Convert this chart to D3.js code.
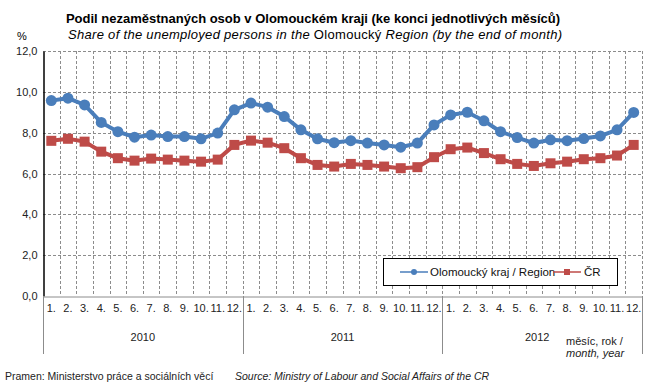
<!DOCTYPE html>
<html>
<head>
<meta charset="utf-8">
<script src="https://cdn.jsdelivr.net/npm/d3@7"></script>
<style>
  body { margin: 0; background: #fff; }
  svg { font-family: "Liberation Sans", Arial, sans-serif; }
</style>
</head>
<body>
<script>
(function(){

    var years = ["2010", "2011", "2012"];
    var months = ["1.", "2.", "3.", "4.", "5.", "6.", "7.", "8.", "9.", "10.", "11.", "12."];
    var yTicks = [0, 2, 4, 6, 8, 10, 12];

    // Olomoucký kraj, month by month 2010-2012
    var olomouc = [9.57, 9.69, 9.36, 8.50, 8.05, 7.78, 7.88, 7.81, 7.81, 7.70, 7.98, 9.12,
                   9.45, 9.25, 8.79, 8.14, 7.70, 7.51, 7.61, 7.49, 7.40, 7.29, 7.49, 8.38,
                   8.87, 9.00, 8.58, 8.05, 7.76, 7.49, 7.65, 7.61, 7.71, 7.84, 8.14, 8.99];
    // ČR
    var cr = [7.60, 7.70, 7.56, 7.07, 6.75, 6.63, 6.73, 6.68, 6.63, 6.58, 6.68, 7.40,
              7.61, 7.51, 7.24, 6.75, 6.42, 6.34, 6.47, 6.42, 6.34, 6.26, 6.31, 6.80,
              7.19, 7.27, 7.00, 6.70, 6.47, 6.37, 6.50, 6.58, 6.70, 6.75, 6.88, 7.40];

    var width = 651, height = 388;
    var left = 43, right = 642, top = 51, bottom = 296;
    var blue = "#4a7ebb", red = "#be4b48";

    var keys = [];
    years.forEach(y => months.forEach(m => keys.push(y + "-" + m)));

    var svg = d3.select("body").append("svg")
        .attr("width", width)
        .attr("height", height);

    var x = d3.scaleBand().domain(keys).range([left, right]).padding(0);
    var y = d3.scaleLinear().domain([0, 12]).range([bottom, top]);
    var cx = k => x(k) + x.bandwidth() / 2;

    // titles
    svg.append("text")
        .attr("x", 313).attr("y", 23)
        .attr("text-anchor", "middle")
        .style("font-size", "13px").style("font-weight", "bold")
        .text("Podil nezaměstnaných  osob v Olomouckém kraji (ke konci jednotlivých měsíců)");

    var sub = svg.append("text")
        .attr("x", 315).attr("y", 39)
        .attr("text-anchor", "middle")
        .attr("textLength", 494)
        .style("font-size", "13px");
    sub.append("tspan").style("font-style", "italic").text("Share of the unemployed  persons in the ");
    sub.append("tspan").text("Olomoucký ");
    sub.append("tspan").style("font-style", "italic").text("Region  (by  the end of month)");

    svg.append("text")
        .attr("x", 22).attr("y", 40)
        .attr("text-anchor", "middle")
        .style("font-size", "11px")
        .text("%");

    // grid
    var grid = svg.append("g")
        .attr("stroke", "#8c8c8c")
        .attr("stroke-dasharray", "3,2")
        .attr("stroke-width", 1);

    grid.selectAll(".hg")
        .data(yTicks.filter(d => d > 0))
        .enter().append("line")
        .attr("x1", left).attr("x2", right)
        .attr("y1", d => Math.round(y(d)) + 0.5)
        .attr("y2", d => Math.round(y(d)) + 0.5);

    grid.selectAll(".vg")
        .data(keys.slice(1).concat(["end"]))
        .enter().append("line")
        .attr("x1", d => Math.round(d === "end" ? right : x(d)) + 0.5)
        .attr("x2", d => Math.round(d === "end" ? right : x(d)) + 0.5)
        .attr("y1", top).attr("y2", bottom);

    // y axis
    var yAxis = svg.append("g")
        .attr("transform", `translate(${left + 0.5},0)`)
        .call(d3.axisLeft(y)
            .tickValues(yTicks)
            .tickSize(0)
            .tickPadding(6)
            .tickFormat(d => d.toFixed(1).replace(".", ",")));
    yAxis.select(".domain").attr("stroke", "#000").attr("stroke-width", 1.5);
    yAxis.selectAll("text").style("font-size", "11px").attr("fill", "#222");

    // x axis
    var xAxis = svg.append("g")
        .attr("transform", `translate(0,${bottom + 0.5})`)
        .call(d3.axisBottom(x)
            .tickSize(0)
            .tickPadding(8)
            .tickFormat(k => k.split("-")[1]));
    xAxis.select(".domain").attr("stroke", "#8c8c8c");
    xAxis.selectAll("text").style("font-size", "11px").attr("fill", "#222");

    // year separators and labels
    var yearEdges = years.map(yr => x(yr + "-1.")).concat([right]);
    svg.selectAll(".ysep")
        .data(yearEdges)
        .enter().append("line")
        .attr("x1", d => Math.round(d) + 0.5)
        .attr("x2", d => Math.round(d) + 0.5)
        .attr("y1", bottom).attr("y2", 354)
        .attr("stroke", "#8c8c8c");

    svg.selectAll(".ylab")
        .data(years)
        .enter().append("text")
        .attr("x", (d, i) => (yearEdges[i] + yearEdges[i + 1]) / 2 - (i === 2 ? 5 : 0))
        .attr("y", 341)
        .attr("text-anchor", "middle")
        .style("font-size", "11px").attr("fill", "#222")
        .text(d => d);

    svg.append("text")
        .attr("x", 566).attr("y", 345)
        .style("font-size", "11px").attr("fill", "#222")
        .text("měsíc, rok /");
    svg.append("text")
        .attr("x", 566).attr("y", 357)
        .style("font-size", "11px").style("font-style", "italic").attr("fill", "#222")
        .text("month, year");

    // series
    var line = d3.line().x((d, i) => cx(keys[i])).y(d => y(d));

    svg.append("path")
        .datum(cr)
        .attr("d", line)
        .attr("fill", "none")
        .attr("stroke", red)
        .attr("stroke-width", 4);

    svg.selectAll(".crm")
        .data(cr)
        .enter().append("rect")
        .attr("x", (d, i) => cx(keys[i]) - 5)
        .attr("y", d => y(d) - 5)
        .attr("width", 10).attr("height", 10)
        .attr("fill", red);

    svg.append("path")
        .datum(olomouc)
        .attr("d", line)
        .attr("fill", "none")
        .attr("stroke", blue)
        .attr("stroke-width", 4);

    svg.selectAll(".olm")
        .data(olomouc)
        .enter().append("circle")
        .attr("cx", (d, i) => cx(keys[i]))
        .attr("cy", d => y(d))
        .attr("r", 5.5)
        .attr("fill", blue);

    // legend
    var legend = svg.append("g");
    legend.append("rect")
        .attr("x", 383.5).attr("y", 258.5)
        .attr("width", 234).attr("height", 27)
        .attr("fill", "#fff")
        .attr("stroke", "#000");

    legend.append("line")
        .attr("x1", 400).attr("x2", 428).attr("y1", 272).attr("y2", 272)
        .attr("stroke", blue).attr("stroke-width", 1.5);
    legend.append("circle")
        .attr("cx", 414).attr("cy", 272).attr("r", 3).attr("fill", blue);
    legend.append("text")
        .attr("x", 430).attr("y", 276)
        .style("font-size", "11.5px").attr("fill", "#111")
        .text("Olomoucký kraj / Region");

    legend.append("line")
        .attr("x1", 553).attr("x2", 581).attr("y1", 272).attr("y2", 272)
        .attr("stroke", red).attr("stroke-width", 1.5);
    legend.append("rect")
        .attr("x", 564).attr("y", 269).attr("width", 6).attr("height", 6).attr("fill", red);
    legend.append("text")
        .attr("x", 584).attr("y", 276)
        .style("font-size", "11.5px").attr("fill", "#111")
        .text("ČR");

    // source
    svg.append("text")
        .attr("x", 5).attr("y", 380)
        .style("font-size", "10.5px").attr("fill", "#222")
        .text("Pramen: Ministerstvo práce a sociálních věcí");
    svg.append("text")
        .attr("x", 235).attr("y", 380)
        .style("font-size", "10.5px").style("font-style", "italic").attr("fill", "#222")
        .text("Source: Ministry of Labour and Social Affairs of the CR");

})();
</script>
</body>
</html>
